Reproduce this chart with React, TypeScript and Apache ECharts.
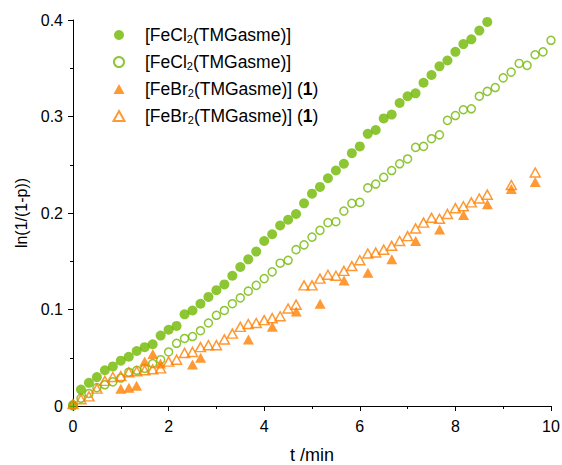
import React, { useEffect, useRef } from "react";
import * as echarts from "echarts";

const GREEN = "#6fb800";
const ORANGE = "#ff8000";

// time step for the dense series: 10 s = 1/6 min
const clFilled = [
  0.001, 0.017, 0.024, 0.030, 0.037, 0.041, 0.047, 0.051, 0.057, 0.061,
  0.064, 0.073, 0.079, 0.083, 0.095, 0.099, 0.106, 0.113, 0.120, 0.126,
  0.135, 0.144, 0.152, 0.160, 0.171, 0.178, 0.187, 0.193, 0.199, 0.210,
  0.220, 0.227, 0.236, 0.244, 0.251, 0.262, 0.269, 0.282, 0.286, 0.298,
  0.302, 0.314, 0.321, 0.324, 0.335, 0.343, 0.352, 0.358, 0.367, 0.375,
  0.380, 0.389, 0.398,
];

const clOpen = [
  0.000, 0.008, 0.013, 0.019, 0.022, 0.025, 0.029, 0.035, 0.037, 0.039,
  0.044, 0.048, 0.056, 0.065, 0.070, 0.072, 0.078, 0.086, 0.094, 0.099,
  0.106, 0.112, 0.119, 0.125, 0.132, 0.139, 0.148, 0.151, 0.162, 0.167,
  0.175, 0.182, 0.190, 0.191, 0.202, 0.210, 0.211, 0.226, 0.230, 0.237,
  0.244, 0.251, 0.256, 0.268, 0.269, 0.277, 0.281, 0.296, 0.301, 0.307,
  0.308, 0.321, 0.326, 0.330, 0.340, 0.346, 0.355, 0.353, 0.364, 0.367,
  0.379,
];

const brOpen = [
  0.002, 0.007, 0.010, 0.018, 0.026, 0.030, 0.031, 0.035, 0.036, 0.037,
  0.038, 0.039, 0.046, 0.048, 0.055, 0.056, 0.061, 0.063, 0.063, 0.069,
  0.075, 0.082, 0.085, 0.086, 0.089, 0.091, 0.093, 0.101, 0.105, 0.125,
  0.125, 0.132, 0.136, 0.135, 0.140, 0.145, 0.151, 0.158, 0.159, 0.162,
  0.166, 0.171, 0.176, 0.184, 0.190, 0.195, 0.194, 0.199, 0.205, 0.207,
  0.211, 0.215, 0.219,
];
const brOpenExtraT = [9.17, 9.67];
const brOpenExtraV = [0.229, 0.242];

const brFilledT = [
  1.0, 1.17, 1.33, 1.5, 1.67, 1.83, 2.5, 2.67, 3.67, 4.17, 4.67, 5.17,
  5.67, 6.17, 6.67, 7.17, 7.67, 8.17, 8.67, 9.17, 9.67,
];
const brFilledV = [
  0.018, 0.019, 0.021, 0.046, 0.054, 0.044, 0.043, 0.050, 0.069, 0.082,
  0.098, 0.106, 0.130, 0.138, 0.152, 0.171, 0.183, 0.198, 0.209, 0.225,
  0.232,
];

const xTicks = { min: 0, max: 10, interval: 2 };
const yTicks = { min: 0, max: 0.4, interval: 0.1 };

const names = ["FeCl2 filled", "FeCl2 open", "FeBr2 filled", "FeBr2 open"];
const legendLabels: Record<string, string> = {
  "FeCl2 filled": "{sp|}{a|[FeCl}{s|2}{a|(TMGasme)]}",
  "FeCl2 open": "{sp|}{a|[FeCl}{s|2}{a|(TMGasme)]}",
  "FeBr2 filled": "{sp|}{a|[FeBr}{s|2}{a|(TMGasme)] (}{b|1}{a|)}",
  "FeBr2 open": "{sp|}{a|[FeBr}{s|2}{a|(TMGasme)] (}{b|1}{a|)}",
};

const dense = (vals: number[]) => vals.map((v, i) => [i / 6, v]);
const pairs = (ts: number[], vs: number[]) => ts.map((t, i) => [t, vs[i]]);

const FONT = "Arial, 'Liberation Sans', sans-serif";

export default function App() {
  const ref = useRef<HTMLDivElement>(null);
  useEffect(() => {
    if (!ref.current) return;
    const chart = echarts.init(ref.current, undefined, { renderer: "svg" });
    const axisCommon = {
      axisLine: { show: true, lineStyle: { color: "#000", width: 1 } },
      axisTick: { show: true, inside: false, length: 5, lineStyle: { color: "#000" } },
      minorTick: { show: true, splitNumber: 2, length: 3, lineStyle: { color: "#000" } },
      splitLine: { show: false },
      axisLabel: { color: "#000", fontSize: 16, fontFamily: FONT },
    };
    chart.setOption({
      animation: false,
      backgroundColor: "#fff",
      grid: {
        left: 73,
        right: 11,
        top: 20,
        bottom: 59,
        containLabel: false,
        outerBoundsMode: "none",
      },
      xAxis: {
        type: "value",
        ...xTicks,
        ...axisCommon,
        axisLabel: { ...axisCommon.axisLabel, margin: 12 },
        name: "t /min",
        nameLocation: "middle",
        nameGap: 40,
        nameTextStyle: { color: "#000", fontSize: 18, fontFamily: FONT },
      },
      yAxis: {
        type: "value",
        ...yTicks,
        ...axisCommon,
        axisLabel: { ...axisCommon.axisLabel, margin: 10 },
        name: "ln(1/(1-p))",
        nameLocation: "middle",
        nameGap: 43,
        nameTextStyle: { color: "#000", fontSize: 16, fontFamily: FONT },
      },
      legend: {
        orient: "vertical",
        left: 107.5,
        top: 21,
        itemGap: 9,
        itemWidth: 11,
        itemHeight: 10,
        data: names,
        formatter: (n: string) => legendLabels[n],
        textStyle: {
          rich: {
            sp: { width: 15.5, lineHeight: 18 },
            a: { fontSize: 17.5, lineHeight: 18, fontFamily: FONT, color: "#000" },
            s: { fontSize: 11, lineHeight: 18, fontFamily: FONT, color: "#000", verticalAlign: "bottom", padding: [5, 0, 0, 0] },
            b: { fontSize: 17.5, lineHeight: 18, fontFamily: FONT, color: "#000", fontWeight: "bold" },
          },
        },
      },
      series: [
        {
          name: names[0],
          type: "scatter",
          symbol: "circle",
          symbolSize: 10,
          itemStyle: { color: GREEN },
          data: dense(clFilled),
        },
        {
          name: names[1],
          type: "scatter",
          symbol: "circle",
          symbolSize: 8,
          itemStyle: { color: "rgba(255,255,255,0)", borderColor: GREEN, borderWidth: 1.5 },
          data: dense(clOpen),
        },
        {
          name: names[2],
          type: "scatter",
          symbol: "triangle",
          symbolSize: [11, 10],
          itemStyle: { color: ORANGE },
          data: pairs(brFilledT, brFilledV),
        },
        {
          name: names[3],
          type: "scatter",
          symbol: "triangle",
          symbolSize: [10, 9],
          itemStyle: { color: "rgba(255,255,255,0)", borderColor: ORANGE, borderWidth: 1.5 },
          data: [...dense(brOpen), ...pairs(brOpenExtraT, brOpenExtraV)],
        },
      ],
    });
    return () => chart.dispose();
  }, []);
  return <div ref={ref} style={{ width: 562, height: 465, position: "absolute", left: 0, top: 0 }} />;
}
